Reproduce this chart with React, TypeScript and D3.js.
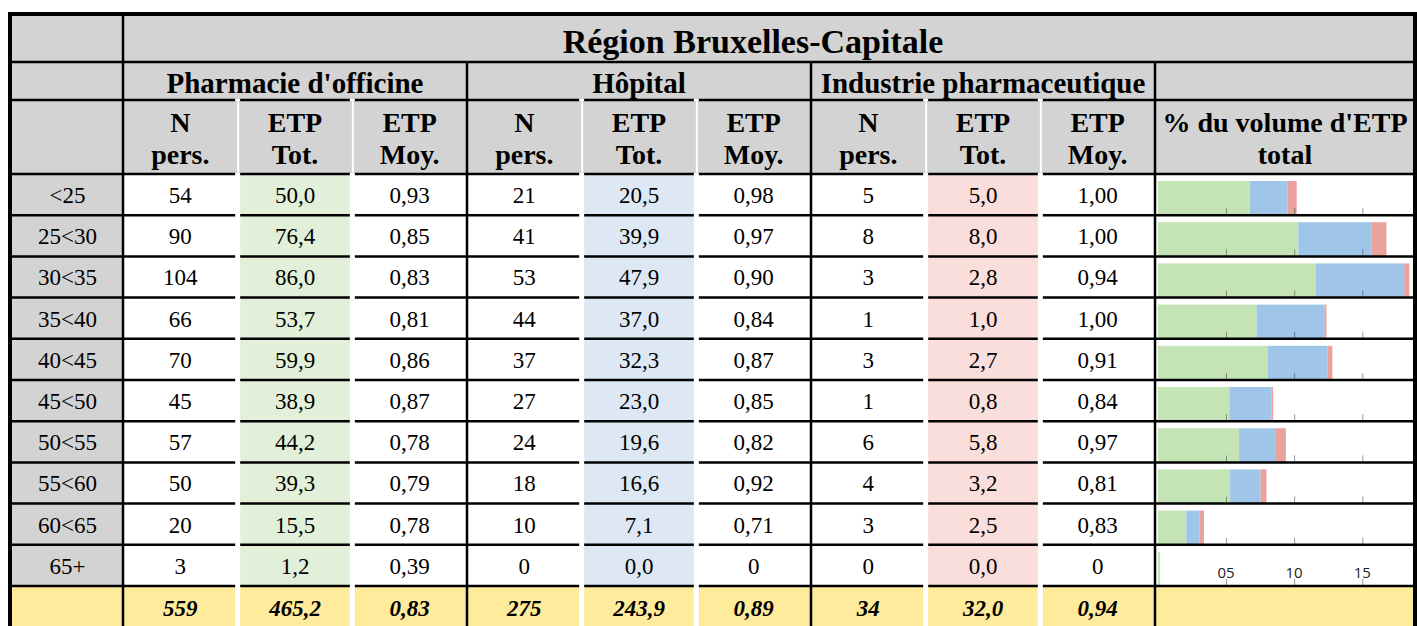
import * as d3 from 'd3';

const ageGroups = ['<25', '25<30', '30<35', '35<40', '40<45', '45<50', '50<55', '55<60', '60<65', '65+'];

const pharmaN = [54, 90, 104, 66, 70, 45, 57, 50, 20, 3];
const pharmaEtp = [50.0, 76.4, 86.0, 53.7, 59.9, 38.9, 44.2, 39.3, 15.5, 1.2];
const pharmaMoy = [0.93, 0.85, 0.83, 0.81, 0.86, 0.87, 0.78, 0.79, 0.78, 0.39];

const hopN = [21, 41, 53, 44, 37, 27, 24, 18, 10, 0];
const hopEtp = [20.5, 39.9, 47.9, 37.0, 32.3, 23.0, 19.6, 16.6, 7.1, 0.0];
const hopMoy = [0.98, 0.97, 0.9, 0.84, 0.87, 0.85, 0.82, 0.92, 0.71, 0];

const indN = [5, 8, 3, 1, 3, 1, 6, 4, 3, 0];
const indEtp = [5.0, 8.0, 2.8, 1.0, 2.7, 0.8, 5.8, 3.2, 2.5, 0.0];
const indMoy = [1.0, 1.0, 0.94, 1.0, 0.91, 0.84, 0.97, 0.81, 0.83, 0];

// N pers., ETP Tot., ETP Moy.
const pharmaTotal = [559, 465.2, 0.83];
const hopTotal = [275, 243.9, 0.89];
const indTotal = [34, 32.0, 0.94];

const pctTicks = [5, 10, 15];

const W = 1417;
const H = 626;
const serif = 'Liberation Serif, DejaVu Serif, serif';
const grey = '#d3d3d3';
const yellow = '#ffeb9c';

const fmtInt = (v: number) => String(v);
const fmt1 = (v: number) => v.toFixed(1).replace('.', ',');
const fmt2 = (v: number) => (v === 0 ? '0' : v.toFixed(2).replace('.', ','));

const groups = [
  { name: "Pharmacie d'officine", n: pharmaN, etp: pharmaEtp, moy: pharmaMoy, tot: pharmaTotal, cell: '#e2f0d9', bar: '#c5e4b5' },
  { name: 'Hôpital', n: hopN, etp: hopEtp, moy: hopMoy, tot: hopTotal, cell: '#dde8f4', bar: '#9fc5e8' },
  { name: 'Industrie pharmaceutique', n: indN, etp: indEtp, moy: indMoy, tot: indTotal, cell: '#f9dedb', bar: '#eaa29c' },
];

export default function App() {
  const left = 12;
  const right = 1413;
  const labelX = 123;
  const barX = 1155;
  const yTitle = 62;
  const yGroup = 100;
  const yHead = 174;

  const col = d3.scaleLinear([0, 9], [labelX, barX]);
  const row = d3.scaleLinear([0, ageGroups.length], [yHead, 586]);
  const rowH = row(1) - row(0);
  const pct = d3.scaleLinear([0, 15], [1157.8, 1362.3]);

  const grand = d3.sum(groups, (g) => g.tot[1]);
  const table = ageGroups.map((age, i) => ({
    age,
    pharma: (pharmaEtp[i] / grand) * 100,
    hop: (hopEtp[i] / grand) * 100,
    ind: (indEtp[i] / grand) * 100,
  }));
  const keys = ['pharma', 'hop', 'ind'];
  const stacked = d3.stack<any>().keys(keys)(table);

  const innerCols = d3.range(1, 9).filter((j) => j % 3 !== 0);
  const totalY = row(ageGroups.length);
  const mid = (j: number) => (col(j) + col(j + 1)) / 2;
  const cellText = (j: number, i: number) => {
    const g = groups[Math.floor(j / 3)];
    const k = j % 3;
    if (k === 0) return fmtInt(g.n[i]);
    if (k === 1) return fmt1(g.etp[i]);
    return fmt2(g.moy[i]);
  };
  const totalText = (j: number) => {
    const g = groups[Math.floor(j / 3)];
    const k = j % 3;
    return k === 0 ? fmtInt(g.tot[0]) : k === 1 ? fmt1(g.tot[1]) : fmt2(g.tot[2]);
  };
  const heads = [
    ['N', 'pers.'],
    ['ETP', 'Tot.'],
    ['ETP', 'Moy.'],
  ];

  return (
    <svg width={W} height={H} style={{ position: 'absolute', left: 0, top: 0, display: 'block', fontFamily: serif }}>
      <rect width={W} height={H} fill="#fff" />
      {/* header and label fills */}
      <rect x={left} y={16} width={right - left} height={yHead - 16} fill={grey} />
      <rect x={left} y={yHead} width={labelX - left} height={totalY - yHead} fill={grey} />
      <rect x={left} y={totalY} width={right - left} height={H - totalY} fill={yellow} />
      {groups.map((g, gi) => (
        <rect key={gi} x={col(gi * 3 + 1)} y={yHead} width={col(1) - col(0)} height={totalY - yHead} fill={g.cell} />
      ))}

      {/* stacked bars */}
      {stacked.map((s, si) => (
        <g key={si} fill={groups[si].bar}>
          {s.map((d, i) =>
            d[1] > d[0] ? (
              <rect key={i} x={pct(d[0])} y={row(i) + 7} width={pct(d[1]) - pct(d[0])} height={rowH - 7} />
            ) : null,
          )}
        </g>
      ))}
      <g stroke="#333" strokeOpacity={0.5} strokeWidth={1}>
        {ageGroups.map((_, i) =>
          pctTicks.map((t) => (
            <line key={`${i}-${t}`} x1={pct(t) + 0.5} x2={pct(t) + 0.5} y1={row(i + 1) - 7} y2={row(i + 1) - 1} />
          )),
        )}
      </g>
      <g style={{ fontFamily: 'Open Sans, Noto Sans, sans-serif' }} fontSize={15} fill="#222" textAnchor="middle">
        {pctTicks.map((t) => (
          <text key={t} x={pct(t)} y={row(ageGroups.length) - 8}>
            {d3.format('02d')(t)}
          </text>
        ))}
      </g>

      {/* black horizontal lines */}
      <g stroke="#000" strokeWidth={2.5}>
        <line x1={left} x2={right} y1={yTitle} y2={yTitle} />
        <line x1={left} x2={right} y1={yGroup} y2={yGroup} />
        {d3.range(ageGroups.length + 1).map((i) => (
          <line key={i} x1={left} x2={right} y1={row(i)} y2={row(i)} />
        ))}
      </g>

      {/* white separators inside groups */}
      <g fill="#fff">
        {innerCols.map((j) => (
          <g key={j}>
            <rect x={col(j) - 2.5} y={yGroup - 1.5} width={5} height={3} />
            <rect x={col(j) - 0.5} y={yGroup + 1.5} width={2} height={yHead - yGroup - 3} />
            <rect x={col(j) - 2.5} y={yHead - 1.5} width={5} height={H - yHead + 1.5} />
          </g>
        ))}
      </g>

      {/* black vertical lines */}
      <g stroke="#000" strokeWidth={2.5}>
        <line x1={labelX} x2={labelX} y1={14} y2={H} />
        {[3, 6, 9].map((j) => (
          <line key={j} x1={col(j)} x2={col(j)} y1={yTitle} y2={H} />
        ))}
      </g>
      <rect x={10} y={14} width={1405} height={700} fill="none" stroke="#000" strokeWidth={4} />

      {/* texts */}
      <text x={753} y={53} textAnchor="middle" fontSize={34} fontWeight="bold">
        Région Bruxelles-Capitale
      </text>
      <g fontSize={29} fontWeight="bold" textAnchor="middle">
        {groups.map((g, gi) => (
          <text key={gi} x={(col(gi * 3) + col(gi * 3 + 3)) / 2} y={93}>
            {g.name}
          </text>
        ))}
      </g>
      <g fontSize={28} fontWeight="bold" textAnchor="middle">
        {d3.range(9).map((j) => (
          <text key={j} x={mid(j)}>
            <tspan x={mid(j)} y={131.5}>
              {heads[j % 3][0]}
            </tspan>
            <tspan x={mid(j)} y={163.5}>
              {heads[j % 3][1]}
            </tspan>
          </text>
        ))}
        <text>
          <tspan x={(barX + 1415) / 2} y={131.5}>
            % du volume d'ETP
          </tspan>
          <tspan x={(barX + 1415) / 2} y={163.5}>
            total
          </tspan>
        </text>
      </g>
      <g fontSize={23} textAnchor="middle">
        {ageGroups.map((age, i) => (
          <g key={age}>
            <text x={(left + labelX) / 2} y={row(i) + 29}>
              {age}
            </text>
            {d3.range(9).map((j) => (
              <text key={j} x={mid(j)} y={row(i) + 29}>
                {cellText(j, i)}
              </text>
            ))}
          </g>
        ))}
      </g>
      <g fontSize={23} fontWeight="bold" fontStyle="italic" textAnchor="middle">
        {d3.range(9).map((j) => (
          <text key={j} x={mid(j)} y={totalY + 30}>
            {totalText(j)}
          </text>
        ))}
      </g>
    </svg>
  );
}
